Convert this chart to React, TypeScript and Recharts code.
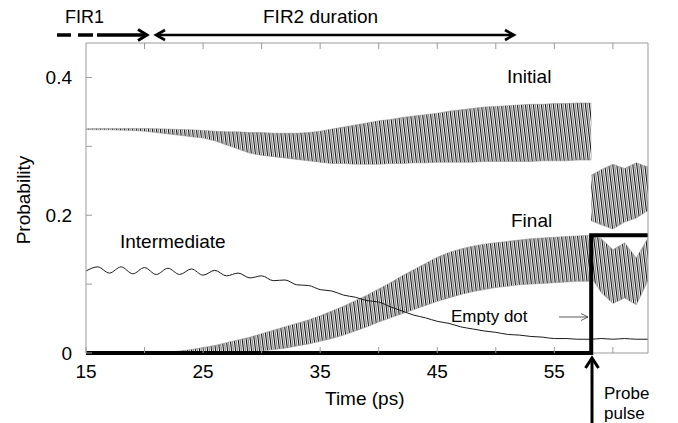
import React from 'react';
import { ComposedChart, Area, Line, XAxis, YAxis, ReferenceLine } from 'recharts';

// Time axis (ps); 58.15 is the probe instant
const time = [
  15, 16, 17, 18, 19, 20, 21, 22, 23, 24, 25, 26, 27, 28, 29, 30, 31, 32, 33, 34,
  35, 36, 37, 38, 39, 40, 41, 42, 43, 44, 45, 46, 47, 48, 49, 50, 51, 52, 53, 54,
  55, 56, 57, 58, 58.15, 59, 60, 61, 62, 63,
];

// "Initial" oscillation envelope, 15 .. 58.15 ps
const initialUpper = [
  0.3255, 0.326, 0.326, 0.326, 0.326, 0.326, 0.3255, 0.325, 0.3245, 0.324, 0.323, 0.322, 0.321, 0.321,
  0.32, 0.32, 0.319, 0.319, 0.319, 0.32, 0.322, 0.325, 0.328, 0.331, 0.334, 0.337, 0.339, 0.342, 0.344,
  0.346, 0.348, 0.351, 0.353, 0.355, 0.357, 0.358, 0.359, 0.36, 0.361, 0.361, 0.362, 0.362, 0.363, 0.363,
  0.363,
];
const initialLower = [
  0.3245, 0.324, 0.324, 0.3235, 0.323, 0.322, 0.32, 0.318, 0.316, 0.314, 0.312, 0.308, 0.302, 0.296,
  0.29, 0.287, 0.285, 0.283, 0.281, 0.279, 0.277, 0.275, 0.275, 0.274, 0.274, 0.274, 0.275, 0.275, 0.276,
  0.276, 0.277, 0.277, 0.277, 0.277, 0.278, 0.278, 0.278, 0.278, 0.278, 0.279, 0.279, 0.279, 0.28, 0.28,
  0.28,
];
// after the probe pulse, 58.15 .. 63 ps
const initialAfterUpper = [0.258, 0.266, 0.274, 0.268, 0.276, 0.27];
const initialAfterLower = [0.192, 0.186, 0.18, 0.19, 0.196, 0.207];

// "Final" oscillation envelope, 15 .. 58.15 ps
const finalUpper = [
  0, 0, 0, 0, 0, 0, 0, 0.001, 0.003, 0.005, 0.008, 0.011, 0.015, 0.019, 0.023, 0.028, 0.033, 0.038,
  0.043, 0.048, 0.054, 0.061, 0.068, 0.076, 0.084, 0.093, 0.102, 0.112, 0.121, 0.13, 0.139, 0.146, 0.151,
  0.155, 0.158, 0.16, 0.162, 0.164, 0.166, 0.167, 0.168, 0.169, 0.17, 0.171, 0.171,
];
const finalLower = [
  0, 0, 0, 0, 0, 0, 0, 0, 0, 0, 0, 0, 0, 0.001, 0.002, 0.003, 0.005, 0.007, 0.01, 0.013, 0.017, 0.021,
  0.026, 0.032, 0.038, 0.045, 0.051, 0.057, 0.063, 0.069, 0.075, 0.08, 0.085, 0.089, 0.092, 0.095, 0.097,
  0.099, 0.1, 0.101, 0.102, 0.103, 0.104, 0.104, 0.104,
];
const finalAfterUpper = [0.171, 0.166, 0.15, 0.16, 0.138, 0.167];
const finalAfterLower = [0.11, 0.088, 0.072, 0.08, 0.07, 0.105];

// "Intermediate" population, 15 .. 63 ps
const intermediate = [
  0.119, 0.125, 0.116, 0.125, 0.115, 0.124, 0.114, 0.123, 0.114, 0.122, 0.113, 0.12, 0.112, 0.116,
  0.109, 0.112, 0.105, 0.106, 0.099, 0.098, 0.092, 0.09, 0.084, 0.081, 0.076, 0.074, 0.067, 0.061,
  0.055, 0.051, 0.046, 0.043, 0.038, 0.035, 0.032, 0.03, 0.027, 0.026, 0.024, 0.023, 0.021, 0.021, 0.02,
  0.02, 0.02, 0.021, 0.02, 0.021, 0.02, 0.02,
];

// thick step: probe onset
const probeTimes = [15, 58.15, 63];
const probeValues = [0, 0.171, 0.171];

const xTicks = [15, 20, 25, 30, 35, 40, 45, 50, 55, 60];
const xLabels = [15, 25, 35, 45, 55];
const topTicks = [20, 25, 30, 35, 40, 45, 50, 55, 60];
const yTicks = [0, 0.1, 0.2, 0.3, 0.4];
const rightTicks = [0.1, 0.2, 0.3, 0.4];
const yLabels: Record<string, string> = { '0': '0', '0.2': '0.2', '0.4': '0.4' };

const PROBE_INDEX = 44;

const rows = time.map((t, i) => {
  const row: any = { t, inter: intermediate[i] };
  if (i <= PROBE_INDEX) {
    row.initial = [initialLower[i], initialUpper[i]];
    row.final = [finalLower[i], finalUpper[i]];
  }
  if (i >= PROBE_INDEX) {
    const j = i - PROBE_INDEX;
    row.initialAfter = [initialAfterLower[j], initialAfterUpper[j]];
    row.finalAfter = [finalAfterLower[j], finalAfterUpper[j]];
  }
  const p = probeTimes.indexOf(t);
  if (p >= 0) row.probe = probeValues[p];
  return row;
});

const FONT = '"Liberation Sans", Arial, Helvetica, sans-serif';
const FRAME = '#9a9a9a';

const LeftTick = (props: any) => {
  const { x, y, payload } = props;
  const label = yLabels[String(payload.value)];
  return (
    <g>
      <line x1={x + 14} x2={x + 20} y1={y} y2={y} stroke={FRAME} strokeWidth={1} />
      {label !== undefined && (
        <text x={x} y={y} dy={7} textAnchor="end" fontFamily={FONT} fontSize={19} fill="#000">
          {label}
        </text>
      )}
    </g>
  );
};

const RightTick = (props: any) => {
  const { x, y } = props;
  return <line x1={x} x2={x - 6} y1={y} y2={y} stroke={FRAME} strokeWidth={1} />;
};

const BottomTick = (props: any) => {
  const { x, y, payload } = props;
  const show = xLabels.indexOf(payload.value) >= 0;
  return (
    <g>
      <line x1={x} x2={x} y1={y} y2={y - 6} stroke={FRAME} strokeWidth={1} />
      {show && (
        <text x={x} y={y + 25} textAnchor="middle" fontFamily={FONT} fontSize={19} fill="#000">
          {payload.value}
        </text>
      )}
    </g>
  );
};

const TopTick = (props: any) => {
  const { x, y } = props;
  return <line x1={x} x2={x} y1={y} y2={y + 6} stroke={FRAME} strokeWidth={1} />;
};

const txt = { fontFamily: FONT, fill: '#000' } as const;

const bandProps = {
  type: 'linear' as const,
  fill: 'url(#osc)',
  fillOpacity: 1,
  stroke: '#888',
  strokeWidth: 0.5,
  isAnimationActive: false,
  dot: false,
  activeDot: false,
};

export default function App() {
  return (
    <div style={{ position: 'absolute', left: 0, top: 0, width: 678, height: 423, background: '#fff' }}>
      <svg width={0} height={0} style={{ position: 'absolute' }}>
        <defs>
          <pattern id="osc" patternUnits="userSpaceOnUse" width={4} height={8} patternTransform="skewX(7)">
            <rect x={0} y={0} width={4} height={8} fill="#fff" />
            <line x1={0.6} x2={0.6} y1={0} y2={8} stroke="#000" strokeWidth={1.1} />
            <line x1={2.6} x2={2.6} y1={0} y2={8} stroke="#6a6a6a" strokeWidth={0.9} />
          </pattern>
        </defs>
      </svg>
      <ComposedChart
        width={678}
        height={423}
        data={rows}
        margin={{ top: 42, right: 29, bottom: 69, left: 85 }}
        style={{ position: 'absolute', left: 0, top: 0 }}
      >
        <XAxis
          dataKey="t"
          type="number"
          domain={[15, 63]}
          ticks={xTicks}
          interval={0}
          height={1}
          tickSize={0}
          tickMargin={0}
          axisLine={false}
          tickLine={false}
          tick={BottomTick}
        />
        <XAxis
          xAxisId="top"
          orientation="top"
          dataKey="t"
          type="number"
          domain={[15, 63]}
          ticks={topTicks}
          interval={0}
          height={1}
          tickSize={0}
          tickMargin={0}
          axisLine={{ stroke: FRAME }}
          tickLine={false}
          tick={TopTick}
        />
        <YAxis
          type="number"
          domain={[0, 0.45]}
          ticks={yTicks}
          interval={0}
          width={1}
          tickSize={0}
          tickMargin={14}
          axisLine={{ stroke: FRAME }}
          tickLine={false}
          tick={LeftTick}
        />
        <YAxis
          yAxisId="right"
          orientation="right"
          type="number"
          domain={[0, 0.45]}
          ticks={rightTicks}
          interval={0}
          width={1}
          tickSize={0}
          tickMargin={0}
          axisLine={{ stroke: FRAME }}
          tickLine={false}
          tick={RightTick}
        />
        <ReferenceLine
          segment={[
            { x: 58.15, y: 0 },
            { x: 63, y: 0 },
          ]}
          stroke={FRAME}
          strokeWidth={1}
        />
        <Area dataKey="initial" {...bandProps} />
        <Area dataKey="initialAfter" {...bandProps} />
        <Area dataKey="final" {...bandProps} />
        <Area dataKey="finalAfter" {...bandProps} />
        <Line
          dataKey="inter"
          type="monotone"
          stroke="#1a1a1a"
          strokeWidth={1}
          dot={false}
          activeDot={false}
          isAnimationActive={false}
        />
        <Line
          dataKey="probe"
          type="stepAfter"
          stroke="#000"
          strokeWidth={4}
          connectNulls
          dot={false}
          activeDot={false}
          isAnimationActive={false}
        />
      </ComposedChart>
      <svg
        width={678}
        height={423}
        style={{ position: 'absolute', left: 0, top: 0, pointerEvents: 'none' }}
      >
        {/* FIR1 */}
        <text x={65} y={23} fontSize={18} {...txt}>FIR1</text>
        <line x1={57} x2={71} y1={35} y2={35} stroke="#000" strokeWidth={3.5} />
        <line x1={78} x2={93} y1={35} y2={35} stroke="#000" strokeWidth={3.5} />
        <line x1={97} x2={146} y1={35} y2={35} stroke="#000" strokeWidth={3.5} />
        <polyline points="138,29.5 147,35 138,40.5" fill="none" stroke="#000" strokeWidth={3} />
        {/* FIR2 duration */}
        <text x={263} y={23} fontSize={19} {...txt}>FIR2 duration</text>
        <line x1={157} x2={513} y1={35} y2={35} stroke="#000" strokeWidth={2.6} />
        <polyline points="165,30 156,35 165,40" fill="none" stroke="#000" strokeWidth={2.6} />
        <polyline points="505,30 514,35 505,40" fill="none" stroke="#000" strokeWidth={2.6} />
        {/* labels */}
        <text x={507} y={83} fontSize={19} {...txt}>Initial</text>
        <text x={511} y={227} fontSize={19} {...txt}>Final</text>
        <text x={120} y={248} fontSize={19} {...txt}>Intermediate</text>
        <text x={451} y={322} fontSize={17} {...txt}>Empty dot</text>
        <line x1={559} x2={588} y1={317} y2={317} stroke="#333" strokeWidth={0.8} />
        <polyline points="581,313.5 588,317 581,320.5" fill="none" stroke="#333" strokeWidth={0.8} />
        {/* axis titles */}
        <text x={325} y={405} fontSize={19} {...txt}>Time (ps)</text>
        <text x={30} y={200} fontSize={19} textAnchor="middle" transform="rotate(-90 30 200)" {...txt}>
          Probability
        </text>
        {/* probe pulse */}
        <line x1={592} x2={592} y1={423} y2={360} stroke="#000" strokeWidth={3} />
        <polyline points="585.5,368 592,358 598.5,368" fill="none" stroke="#000" strokeWidth={3} />
        <text x={604} y={399} fontSize={17} {...txt}>Probe</text>
        <text x={604} y={419} fontSize={17} {...txt}>pulse</text>
      </svg>
    </div>
  );
}
